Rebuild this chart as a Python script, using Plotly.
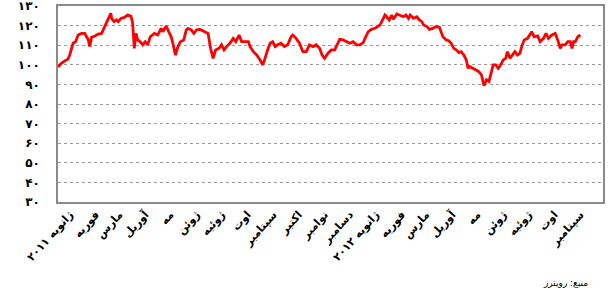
import pandas as pd
import plotly.graph_objects as go

# Days since 2011-01-01 and index value
days = [0, 4, 8, 12, 14, 16, 18, 21, 24, 28, 32, 34, 36, 38, 40, 44, 48, 52, 55, 58,
        59, 63, 64, 67, 70, 72, 75, 79, 83, 87, 89, 91, 93, 95, 98, 101, 104, 107, 110, 115,
        119, 123, 125, 129, 132, 135, 137, 140, 143, 146, 150, 153, 155, 159, 162, 165, 169, 173, 179, 182,
        185, 188, 192, 195, 198, 201, 205, 209, 212, 216, 219, 223, 227, 229, 233, 237, 241, 244, 246, 250,
        253, 256, 259, 262, 266, 270, 274, 278, 280, 284, 288, 292, 296, 300, 304, 308, 312, 315, 318, 322,
        326, 330, 333, 336, 340, 344, 348, 352, 356, 360, 364, 367, 370, 374, 378, 384, 387, 390, 392, 395,
        398, 400, 404, 408, 412, 415, 418, 420, 424, 428, 431, 434, 436, 440, 443, 447, 451, 455, 459, 463,
        466, 469, 472, 475, 478, 481, 484, 487, 489, 491, 495, 498, 502, 505, 508, 511, 514, 516, 519, 522,
        525, 528, 531, 534, 536, 539, 542, 545, 548, 551, 553, 556, 560, 563, 565, 568, 572, 575, 579, 582,
        585, 589, 593, 596, 599, 601, 605, 608, 611, 613, 615, 617, 620, 623]
values = [98.9, 100.8, 102.0, 102.9, 105.0, 107.6, 111.0, 111.8, 115.2, 116.0, 116.0, 114.3, 113.0, 109.3, 114.0, 114.7, 115.7, 116.0, 118.6, 122.0,
          122.9, 126.3, 123.7, 122.0, 122.9, 122.0, 123.7, 124.2, 125.4, 124.9, 121.2, 108.4, 116.0, 112.7, 111.8, 110.2, 111.8, 110.2, 114.3, 116.0,
          115.2, 118.6, 116.9, 119.8, 116.9, 114.3, 111.0, 105.0, 109.3, 111.8, 112.7, 117.8, 118.6, 117.8, 116.0, 117.8, 118.1, 117.4, 116.0, 108.4,
          103.3, 107.6, 108.4, 110.2, 107.6, 109.3, 111.0, 113.5, 111.8, 115.2, 111.8, 111.8, 111.8, 109.3, 106.7, 105.0, 102.5, 99.9, 102.0, 107.6,
          111.0, 111.8, 109.3, 110.2, 111.0, 109.3, 110.2, 114.3, 115.2, 113.5, 111.0, 106.7, 106.7, 110.2, 109.3, 110.2, 108.4, 105.0, 103.3, 105.9,
          107.6, 107.6, 110.2, 113.0, 112.7, 111.8, 111.0, 111.8, 110.2, 110.2, 111.3, 114.3, 116.9, 118.1, 118.6, 120.3, 122.9, 125.4, 124.5, 122.9,
          125.4, 123.2, 125.9, 125.4, 124.5, 125.4, 123.7, 125.4, 123.7, 124.5, 122.9, 122.0, 120.3, 119.5, 118.1, 118.6, 119.5, 119.1, 114.3, 112.7,
          112.3, 111.0, 108.4, 107.6, 106.2, 106.7, 105.0, 102.5, 98.2, 99.1, 98.2, 97.4, 96.5, 94.9, 89.3, 92.3, 91.5, 94.9, 100.0, 100.0,
          98.2, 100.0, 102.5, 103.3, 106.7, 103.3, 105.0, 106.7, 105.0, 105.9, 109.3, 112.7, 113.5, 116.0, 116.9, 114.3, 114.7, 111.8, 113.5, 116.0,
          113.5, 115.2, 116.0, 112.7, 108.4, 110.2, 110.2, 111.8, 111.8, 108.4, 111.8, 111.8, 114.3, 115.2]

month_labels = ['ژانویه ۲۰۱۱', 'فوریه', 'مارس', 'آوریل', 'مه', 'ژوئن', 'ژوئیه', 'اوت', 'سپتامبر',
                'اکتبر', 'نوامبر', 'دسامبر', 'ژانویه ۲۰۱۲', 'فوریه', 'مارس', 'آوریل', 'مه', 'ژوئن',
                'ژوئیه', 'اوت', 'سپتامبر']
y_ticks = [30, 40, 50, 60, 70, 80, 90, 100, 110, 120, 130]
y_labels = ['۳۰', '۴۰', '۵۰', '۶۰', '۷۰', '۸۰', '۹۰', '۱۰۰', '۱۱۰', '۱۲۰', '۱۳۰']
source_text = 'منبع: رویترز'

start = pd.Timestamp('2011-01-01')
dates = start + pd.to_timedelta(days, unit='D')
tick_dates = pd.date_range('2011-01-01', periods=len(month_labels), freq='MS') + pd.Timedelta(days=14)

fig = go.Figure()
fig.add_trace(go.Scatter(x=dates, y=values, mode='lines',
                         line=dict(color='#ff0000', width=2.8), showlegend=False))

fig.update_layout(
    width=609, height=295,
    margin=dict(l=58, r=6, t=6, b=93),
    paper_bgcolor='white', plot_bgcolor='white',
    font=dict(family='DejaVu Sans', color='black'),
    xaxis=dict(range=[pd.Timestamp('2011-01-01'), pd.Timestamp('2012-10-12')],
               tickvals=tick_dates, ticktext=month_labels, tickangle=-48,
               tickfont=dict(size=11, color='black', weight='bold'),
               showgrid=False, showline=True, linecolor='#8a8a8a', linewidth=1.5,
               mirror=True, ticks='', zeroline=False, automargin=False),
    yaxis=dict(range=[30, 130], tickvals=y_ticks, ticktext=y_labels,
               tickfont=dict(size=12, color='black', weight='bold'),
               showgrid=True, gridcolor='#9a9a9a', griddash='dot', gridwidth=1,
               showline=True, linecolor='#8a8a8a', linewidth=1.5, mirror=True,
               ticks='', ticklabelstandoff=14, zeroline=False, automargin=False,
               ticklabeloverflow='allow'),
    annotations=[dict(text=source_text, xref='paper', yref='paper', x=0.976, y=-0.413,
                      xanchor='right', yanchor='middle', showarrow=False,
                      font=dict(size=9, color='black'))],
)

fig.write_html('out.html', config={'displayModeBar': False},
               post_script="document.body.style.margin='0';document.body.style.padding='0';")
